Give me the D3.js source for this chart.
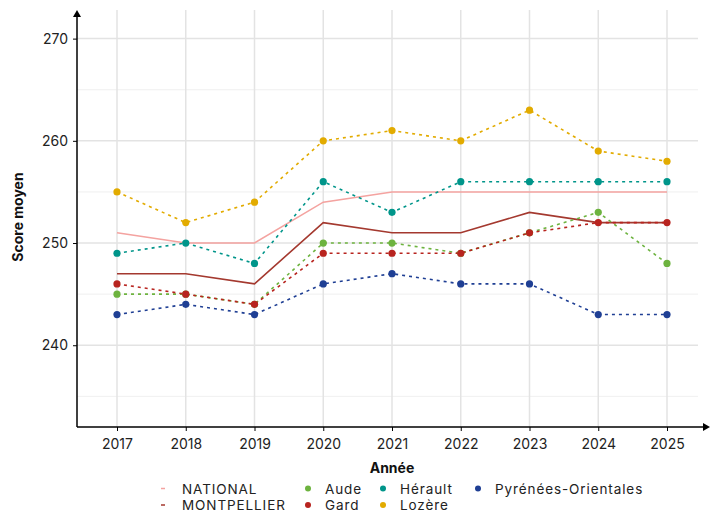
<!DOCTYPE html>
<html><head><meta charset="utf-8">
<script src="https://cdn.jsdelivr.net/npm/d3@7"></script>
<style>body{margin:0;background:#fff}svg{display:block}text{font-family:Inter,Lato,sans-serif}</style>
</head><body><svg id="c" width="720" height="518"></svg>
<script>
const years = [2017,2018,2019,2020,2021,2022,2023,2024,2025];
const national    = [251,250,250,254,255,255,255,255,255];
const montpellier = [247,247,246,252,251,251,253,252,252];
const aude        = [245,245,244,250,250,249,251,253,248];
const gard        = [246,245,244,249,249,249,251,252,252];
const herault     = [249,250,248,256,253,256,256,256,256];
const lozere      = [255,252,254,260,261,260,263,259,258];
const po          = [243,244,243,246,247,246,246,243,243];
const yTicks = [240,250,260,270];
const yMinor = [235,245,255,265];

const series = [
  {name:"NATIONAL", values:national, color:"#f4a3a0", dash:null, pts:false},
  {name:"MONTPELLIER", values:montpellier, color:"#a4392f", dash:null, pts:false},
  {name:"Aude", values:aude, color:"#6db33f", dash:"3,4", pts:true},
  {name:"Gard", values:gard, color:"#b8241f", dash:"3,4", pts:true},
  {name:"Hérault", values:herault, color:"#00958a", dash:"3,4", pts:true},
  {name:"Lozère", values:lozere, color:"#e2ab00", dash:"3,4", pts:true},
  {name:"Pyrénées-Orientales", values:po, color:"#1f3f94", dash:"3,4", pts:true}
];

const svg = d3.select("#c");
const x = d3.scalePoint().domain(years).range([117,667]);
const y = d3.scaleLinear().domain([232,272.8]).range([427,10]);
const pL = 77, pB = 427, pR = 710, pT = 10;

// grid
const g = svg.append("g");
g.selectAll(".ym").data(yMinor).join("line").attr("x1",pL).attr("x2",698)
 .attr("y1",d=>y(d)).attr("y2",d=>y(d)).attr("stroke","#ebebeb").attr("stroke-width",0.8);
g.selectAll(".yM").data(yTicks).join("line").attr("x1",pL).attr("x2",698)
 .attr("y1",d=>y(d)).attr("y2",d=>y(d)).attr("stroke","#e3e3e3").attr("stroke-width",1.5);
g.selectAll(".xg").data(years).join("line").attr("x1",d=>x(d)).attr("x2",d=>x(d))
 .attr("y1",pT).attr("y2",pB).attr("stroke","#e3e3e3").attr("stroke-width",1.5);

// axes
const ya = svg.append("g").attr("transform",`translate(${pL},0)`)
 .call(d3.axisLeft(y).tickValues(yTicks).tickSize(4).tickPadding(5));
ya.select(".domain").remove();
ya.selectAll("text").attr("font-size",14).attr("fill","#222");
ya.selectAll("line").attr("stroke","#000");
const xa = svg.append("g").attr("transform",`translate(0,${pB})`)
 .call(d3.axisBottom(x).tickSize(4).tickPadding(8).tickFormat(d3.format("d")));
xa.select(".domain").remove();
xa.selectAll("text").attr("font-size",14).attr("fill","#222");
xa.selectAll("line").attr("stroke","#000");

svg.append("line").attr("x1",pL).attr("x2",pL).attr("y1",pB).attr("y2",pT+5).attr("stroke","#000").attr("stroke-width",1.5);
svg.append("path").attr("d",`M${pL-4},${pT+7}L${pL},${pT}L${pL+4},${pT+7}Z`).attr("fill","#000");
svg.append("line").attr("x1",pL).attr("x2",pR-5).attr("y1",pB).attr("y2",pB).attr("stroke","#000").attr("stroke-width",1.5);
svg.append("path").attr("d",`M${pR-7},${pB-4}L${pR},${pB}L${pR-7},${pB+4}Z`).attr("fill","#000");

svg.append("text").attr("transform","translate(23,217) rotate(-90)").attr("text-anchor","middle")
 .attr("font-size",14).attr("font-weight","bold").attr("fill","#111").text("Score moyen");
svg.append("text").attr("x",392).attr("y",473).attr("text-anchor","middle")
 .attr("font-size",14).attr("font-weight","bold").attr("fill","#111").text("Année");

// lines
const line = d3.line().x((d,i)=>x(years[i])).y(d=>y(d));
series.forEach(s=>{
  svg.append("path").datum(s.values).attr("d",line).attr("fill","none")
   .attr("stroke",s.color).attr("stroke-width",1.6).attr("stroke-dasharray",s.dash);
});
series.filter(s=>s.pts).forEach(s=>{
  svg.append("g").selectAll("circle").data(s.values).join("circle")
   .attr("cx",(d,i)=>x(years[i])).attr("cy",d=>y(d)).attr("r",3.6).attr("fill",s.color);
});

// legend
const leg = svg.append("g");
const items = [
  {s:series[0], x:163, y:488.5}, {s:series[1], x:163, y:505},
  {s:series[2], x:308, y:488.5}, {s:series[3], x:308, y:505},
  {s:series[4], x:383, y:488.5}, {s:series[5], x:383, y:505},
  {s:series[6], x:478, y:488.5}
];
items.forEach(it=>{
  if(it.s.pts){
    leg.append("circle").attr("cx",it.x).attr("cy",it.y).attr("r",3).attr("fill",it.s.color);
  } else {
    leg.append("line").attr("x1",it.x-2).attr("x2",it.x+2).attr("y1",it.y).attr("y2",it.y)
     .attr("stroke",it.s.color).attr("stroke-width",1.5);
  }
  leg.append("text").attr("x",it.x+ (it.s.pts?17:19)).attr("y",it.y+5).attr("font-size",13.5)
   .attr("letter-spacing",0.9).attr("fill","#222").text(it.s.name);
});
</script></body></html>
